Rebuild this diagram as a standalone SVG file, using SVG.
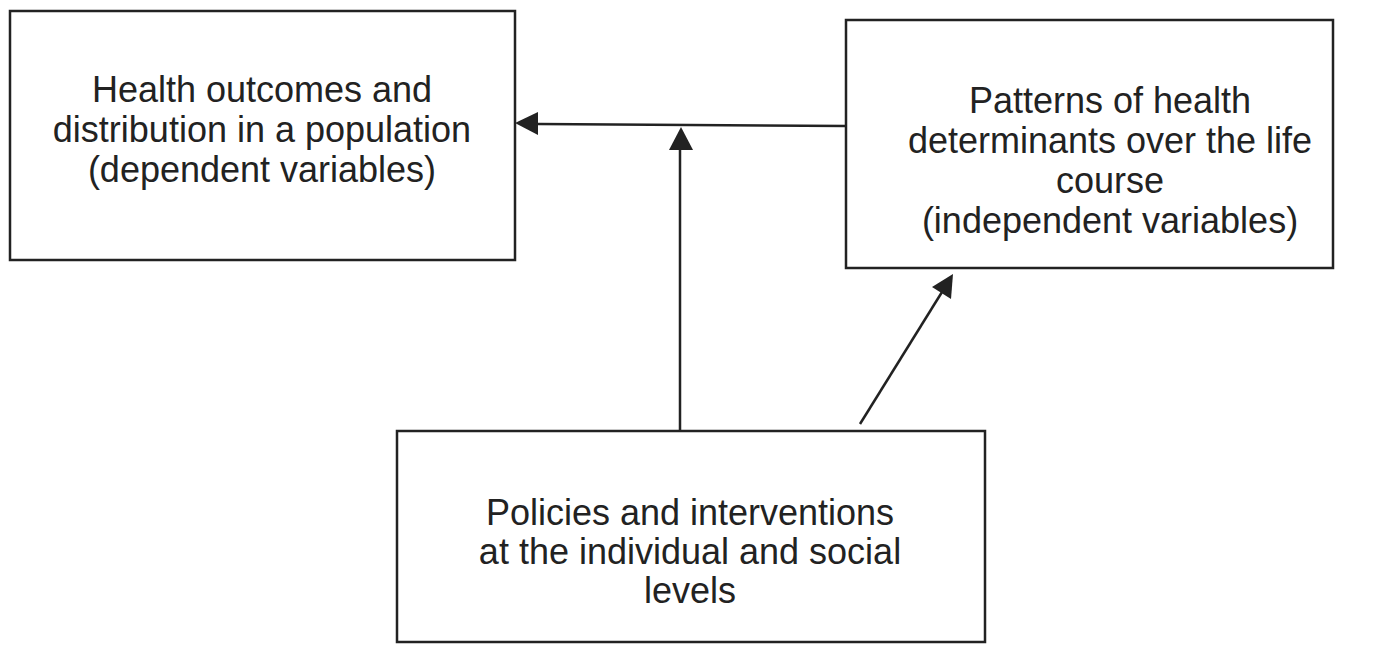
<svg xmlns="http://www.w3.org/2000/svg" width="1387" height="647" viewBox="0 0 1387 647">
<style>
.box{fill:#fff;stroke:#222;stroke-width:2.5}
.t{font-family:"Liberation Sans",Arial,sans-serif;font-size:36px;fill:#222;text-anchor:middle}
.c{stroke:#222;stroke-width:2.5;fill:none}
.h{fill:#222}
</style>
<rect width="1387" height="647" fill="#fff"/>
<g id="n1">
<rect class="box" x="10" y="11" width="505" height="249"/>
<text class="t" x="262" y="102">Health outcomes and</text>
<text class="t" x="262" y="142">distribution in a population</text>
<text class="t" x="262" y="182">(dependent variables)</text>
</g>
<g id="n2">
<rect class="box" x="846" y="20" width="487" height="248"/>
<text class="t" x="1110" y="113">Patterns of health</text>
<text class="t" x="1110" y="153">determinants over the life</text>
<text class="t" x="1110" y="193">course</text>
<text class="t" x="1110" y="233">(independent variables)</text>
</g>
<g id="n3">
<rect class="box" x="397" y="431" width="588" height="211"/>
<text class="t" x="690" y="525">Policies and interventions</text>
<text class="t" x="690" y="564">at the individual and social</text>
<text class="t" x="690" y="603">levels</text>
</g>
<g id="connectors">
<line class="c" x1="846" y1="126" x2="538" y2="124"/>
<path class="h" d="M515,123 L538,112 L538,135 z"/>
<line class="c" x1="680" y1="431" x2="680" y2="150"/>
<path class="h" d="M681,127 L669,150 L693,150 z"/>
<line class="c" x1="860" y1="424" x2="942" y2="292"/>
<path class="h" d="M953,274 L932,287 L951,299 z"/>
</g>
</svg>
